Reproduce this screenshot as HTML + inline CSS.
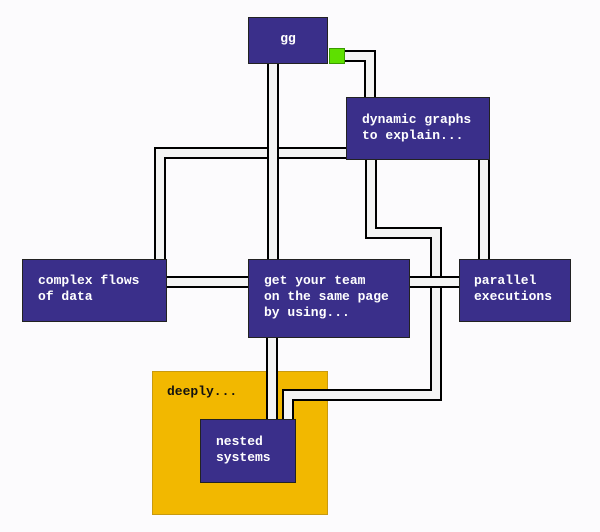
<!DOCTYPE html>
<html><head><meta charset="utf-8"><style>
html,body{margin:0;padding:0;background:#fcfbfd;}
body{width:600px;height:532px;position:relative;overflow:hidden;font-family:"Liberation Mono","DejaVu Sans Mono",monospace;}
.b{position:absolute;background:#3a2f8a;border:1px solid #222;box-sizing:border-box;color:#fff;font-weight:bold;font-size:13px;line-height:16px;}
svg{position:absolute;left:0;top:0;}
</style></head><body>
<div style="position:absolute;left:152px;top:371px;width:176px;height:144px;background:#f2b800;border:1px solid #c89a10;box-sizing:border-box;"></div>
<div style="position:absolute;left:167px;top:384px;font-weight:bold;font-size:13px;color:#111;">deeply...</div>
<svg width="600" height="532">
<g fill="none" stroke-linejoin="miter" stroke-linecap="butt">
<path d="M346 153H160V259" stroke="#000" stroke-width="12"/><path d="M346 153H160V259" stroke="#f4f4f4" stroke-width="8"/>
<path d="M273 64V259" stroke="#000" stroke-width="12"/><path d="M273 64V259" stroke="#f4f4f4" stroke-width="8"/>
<path d="M345 56H370V97" stroke="#000" stroke-width="12"/><path d="M345 56H370V97" stroke="#f4f4f4" stroke-width="8"/>
<path d="M484 160V259" stroke="#000" stroke-width="12"/><path d="M484 160V259" stroke="#f4f4f4" stroke-width="8"/>
<path d="M167 282H248" stroke="#000" stroke-width="12"/><path d="M167 282H248" stroke="#f4f4f4" stroke-width="8"/>
<path d="M371 160V233H436V395H288V419" stroke="#000" stroke-width="12"/><path d="M371 160V233H436V395H288V419" stroke="#f4f4f4" stroke-width="8"/>
<path d="M410 282H459" stroke="#000" stroke-width="12"/><path d="M410 282H459" stroke="#f4f4f4" stroke-width="8"/>
<path d="M272 338V419" stroke="#000" stroke-width="12"/><path d="M272 338V419" stroke="#f4f4f4" stroke-width="8"/>
</g>
</svg>
<div class="b" style="left:248px;top:17px;width:80px;height:47px;text-align:center;padding-top:13px;">gg</div>
<div style="position:absolute;left:329px;top:48px;width:16px;height:16px;background:#5ee000;border:1px solid #3a9a00;box-sizing:border-box;"></div>
<div class="b" style="left:346px;top:97px;width:144px;height:63px;padding:14px 0 0 15px;">dynamic graphs<br>to explain...</div>
<div class="b" style="left:22px;top:259px;width:145px;height:63px;padding:13px 0 0 15px;">complex flows<br>of data</div>
<div class="b" style="left:248px;top:259px;width:162px;height:79px;padding:13px 0 0 15px;">get your team<br>on the same page<br>by using...</div>
<div class="b" style="left:459px;top:259px;width:112px;height:63px;padding:13px 0 0 14px;">parallel<br>executions</div>
<div class="b" style="left:200px;top:419px;width:96px;height:64px;padding:14px 0 0 15px;">nested<br>systems</div>
</body></html>
